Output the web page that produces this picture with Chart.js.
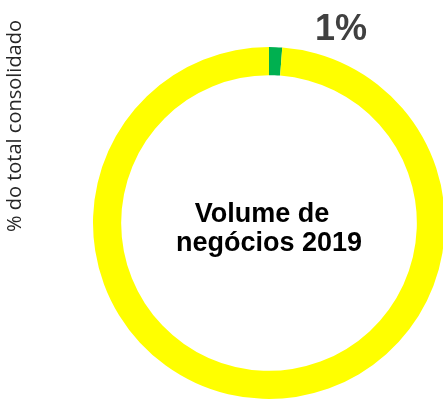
<!DOCTYPE html>
<html lang="pt">
<head>
  <meta charset="UTF-8">
  <title>Volume de negócios 2019</title>
  <script src="https://cdn.jsdelivr.net/npm/chart.js"></script>
  <style>
    body {
      margin: 0;
      background: #ffffff;
      overflow: hidden;
    }
    #chart {
      display: block;
    }
  </style>
</head>
<body>
  <canvas id="chart" width="460" height="401"></canvas>

  <script>
    // share of the consolidated total
    const categories = ['Volume de negócios 2019', 'Restante'];
    const shares = [1.2, 98.8];
    const colors = ['#00B050', '#FFFF00'];
    const centerLines = ['Volume de', 'negócios 2019'];
    const sideTitle = '% do total consolidado';

    // texts around the ring: side title, centre caption, share of the first slice
    const ringText = {
      id: 'ringText',
      afterDraw(chart) {
        const ctx = chart.ctx;
        const arc = chart.getDatasetMeta(0).data[0];
        const cx = arc.x, cy = arc.y, r = arc.outerRadius;

        ctx.save();
        ctx.textAlign = 'center';
        ctx.textBaseline = 'alphabetic';

        ctx.fillStyle = '#000000';
        ctx.font = 'bold 27px "Liberation Sans", Arial, sans-serif';
        ctx.fillText(centerLines[0], cx - 7, cy - 1);
        ctx.fillText(centerLines[1], cx, cy + 28);

        ctx.fillStyle = '#404040';
        ctx.font = 'bold 36px "Liberation Sans", Arial, sans-serif';
        ctx.fillText(Math.round(shares[0]) + '%', cx + 72, cy - r - 7);

        ctx.translate(15, 126);
        ctx.rotate(-Math.PI / 2);
        ctx.fillStyle = '#262626';
        ctx.font = '20px "Open Sans", sans-serif';
        ctx.textBaseline = 'middle';
        ctx.fillText(sideTitle, 0, 0);
        ctx.restore();
      }
    };

    new Chart(document.getElementById('chart'), {
      type: 'doughnut',
      data: {
        labels: categories,
        datasets: [{
          data: shares,
          backgroundColor: colors,
          borderWidth: 0
        }]
      },
      options: {
        responsive: false,
        animation: false,
        cutout: '84%',
        layout: {
          padding: { left: 93, right: 15, top: 47, bottom: 2 }
        },
        plugins: {
          legend: { display: false },
          tooltip: { enabled: false }
        }
      },
      plugins: [ringText]
    });
  </script>
</body>
</html>
